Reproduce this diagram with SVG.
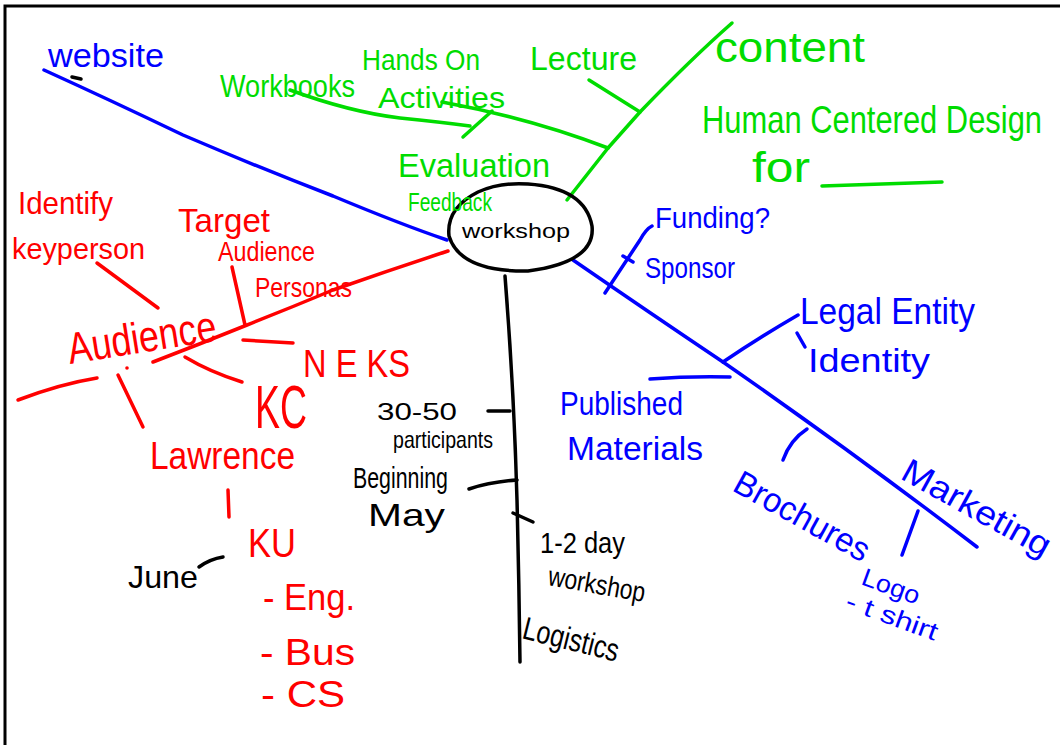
<svg xmlns="http://www.w3.org/2000/svg" width="1060" height="745" viewBox="0 0 1060 745">
  <style>
    text { font-family: "Liberation Sans", Arial, sans-serif; }
    .grn { fill: #00dc00; }
    .blu { fill: #0000ff; }
    .red { fill: #ff0000; }
    .blk { fill: #000000; }
    .ln { fill: none; stroke-width: 3.5; stroke-linecap: round; stroke-linejoin: round; }
    .lg { stroke: #00dc00; }
    .lb { stroke: #0000ff; }
    .lr { stroke: #ff0000; }
    .lk { stroke: #000000; }
  </style>
  <rect width="1060" height="745" fill="#ffffff"/>
  <!-- frame edges -->
  <path d="M5 745 V6 H1060" fill="none" stroke="#000" stroke-width="3"/>

  <!-- connectors -->
  <g id="connectors" class="ln">
    <!-- green content branch -->
    <path class="lg" d="M567 200 L608 148 L640 112 Q690 60 732 23"/>
    <path class="lg" d="M589 80 L640 112"/>
    <path class="lg" d="M442 102 Q530 118 608 148"/>
    <path class="lg" d="M290 90 Q350 112 400 118 Q440 122 470 126"/>
    <path class="lg" d="M492 111 L463 137"/>
    <path class="lg" d="M822 186 L942 182"/>
    <!-- blue website branch -->
    <path class="lb" d="M44 70 Q110 100 183 135 Q260 168 333 196 Q400 224 447 240"/>
    <path class="lk" d="M72 77 L81 79"/>
    <!-- blue marketing branch -->
    <path class="lb" d="M573 260 Q650 313 723 362 Q850 450 977 547"/>
    <path class="lb" d="M605 293 L640 240 Q646 229 652 226"/>
    <path class="lb" d="M623 256 L633 262"/>
    <path class="lb" d="M723 362 Q760 337 798 315"/>
    <path class="lb" d="M797 333 L805 347"/>
    <path class="lb" d="M650 379 Q690 376 730 377"/>
    <path class="lb" d="M807 429 Q790 440 783 460"/>
    <path class="lb" d="M918 511 L902 555"/>
    <!-- red audience branch -->
    <path class="lr" d="M448 251 Q390 270 333 290 Q290 308 247 325 Q200 344 153 362"/>
    <path class="lr" d="M97 378 Q60 384 18 400"/>
    <path class="lr" d="M97 263 L158 308"/>
    <path class="lr" d="M232 267 L245 325"/>
    <path class="lr" d="M243 340 L293 343"/>
    <path class="lr" d="M185 357 Q210 372 242 382"/>
    <path class="lr" d="M118 375 L143 427"/>
    <circle cx="127" cy="368" r="1.8" fill="#ff0000"/>
    <path class="lr" d="M228 490 L229 517"/>
    <path class="lk" d="M199 567 Q210 559 223 557"/>
    <!-- black logistics branch -->
    <path class="lk" d="M505 276 Q514 390 517 500 Q519 580 520 662"/>
    <path class="lk" d="M488 411 L510 411"/>
    <path class="lk" d="M469 489 Q490 482 517 480"/>
    <path class="lk" d="M513 513 L533 522"/>
  </g>

  <!-- central node -->
  <g id="workshop">
    <path d="M478 192 Q500 182 528 184 Q585 188 592 226 Q596 262 528 271 Q460 272 449 236 Q446 208 478 192 Z" fill="none" stroke="#000" stroke-width="3.5"/>
    <text class="blk" x="462" y="238" font-size="21" textLength="108" lengthAdjust="spacingAndGlyphs">workshop</text>
  </g>

  <!-- content (green) -->
  <g id="content">
    <text class="grn" x="715" y="62" font-size="42" textLength="150" lengthAdjust="spacingAndGlyphs">content</text>
    <text class="grn" transform="translate(702 133) scale(1 1.22)" font-size="32" textLength="340" lengthAdjust="spacingAndGlyphs">Human Centered Design</text>
    <text class="grn" x="752" y="182" font-size="42" textLength="58" lengthAdjust="spacingAndGlyphs">for</text>
  </g>
  <g id="lecture">
    <text class="grn" x="530" y="70" font-size="34" textLength="107" lengthAdjust="spacingAndGlyphs">Lecture</text>
  </g>
  <g id="hands-on">
    <text class="grn" x="362" y="70" font-size="30" textLength="118" lengthAdjust="spacingAndGlyphs">Hands On</text>
    <text class="grn" x="378" y="108" font-size="30" textLength="127" lengthAdjust="spacingAndGlyphs">Activities</text>
  </g>
  <g id="workbooks">
    <text class="grn" x="220" y="97" font-size="32" textLength="135" lengthAdjust="spacingAndGlyphs">Workbooks</text>
  </g>
  <g id="evaluation">
    <text class="grn" x="398" y="177" font-size="33" textLength="152" lengthAdjust="spacingAndGlyphs">Evaluation</text>
    <text class="grn" x="408" y="211" font-size="26" textLength="84" lengthAdjust="spacingAndGlyphs">Feedback</text>
  </g>

  <!-- website (blue) -->
  <g id="website">
    <text class="blu" x="48" y="67" font-size="34" textLength="116" lengthAdjust="spacingAndGlyphs">website</text>
  </g>

  <!-- marketing (blue) -->
  <g id="funding">
    <text class="blu" x="655" y="228" font-size="30" textLength="115" lengthAdjust="spacingAndGlyphs">Funding?</text>
    <text class="blu" x="645" y="278" font-size="30" textLength="90" lengthAdjust="spacingAndGlyphs">Sponsor</text>
  </g>
  <g id="legal-entity">
    <text class="blu" x="800" y="324" font-size="36" textLength="175" lengthAdjust="spacingAndGlyphs">Legal Entity</text>
    <text class="blu" x="808" y="372" font-size="34" textLength="122" lengthAdjust="spacingAndGlyphs">Identity</text>
  </g>
  <g id="published">
    <text class="blu" x="560" y="415" font-size="34" textLength="123" lengthAdjust="spacingAndGlyphs">Published</text>
    <text class="blu" x="567" y="460" font-size="34" textLength="136" lengthAdjust="spacingAndGlyphs">Materials</text>
  </g>
  <g id="brochures">
    <text class="blu" transform="translate(731 490) rotate(29)" font-size="34" textLength="150" lengthAdjust="spacingAndGlyphs">Brochures</text>
  </g>
  <g id="logo">
    <text class="blu" transform="translate(860 584) rotate(20)" font-size="25" textLength="60" lengthAdjust="spacingAndGlyphs">Logo</text>
    <text class="blu" transform="translate(844 608) rotate(20)" font-size="25" textLength="96" lengthAdjust="spacingAndGlyphs">- t shirt</text>
  </g>
  <g id="marketing">
    <text class="blu" transform="translate(899 478) rotate(29)" font-size="34" textLength="165" lengthAdjust="spacingAndGlyphs">Marketing</text>
  </g>

  <!-- audience (red) -->
  <g id="audience">
    <text class="red" transform="translate(70 364) rotate(-9)" font-size="44" textLength="150" lengthAdjust="spacingAndGlyphs">Audience</text>
  </g>
  <g id="identify">
    <text class="red" x="18" y="214" font-size="32" textLength="95" lengthAdjust="spacingAndGlyphs">Identify</text>
    <text class="red" x="12" y="259" font-size="30" textLength="133" lengthAdjust="spacingAndGlyphs">keyperson</text>
  </g>
  <g id="target">
    <text class="red" x="178" y="232" font-size="34" textLength="92" lengthAdjust="spacingAndGlyphs">Target</text>
    <text class="red" x="218" y="261" font-size="28" textLength="97" lengthAdjust="spacingAndGlyphs">Audience</text>
    <text class="red" x="255" y="297" font-size="28" textLength="97" lengthAdjust="spacingAndGlyphs">Personas</text>
  </g>
  <g id="ne-ks">
    <text class="red" x="303" y="377" font-size="38" textLength="107" lengthAdjust="spacingAndGlyphs">N E KS</text>
  </g>
  <g id="kc">
    <text class="red" x="255" y="428" font-size="62" textLength="52" lengthAdjust="spacingAndGlyphs">KC</text>
  </g>
  <g id="lawrence">
    <text class="red" x="150" y="469" font-size="38" textLength="145" lengthAdjust="spacingAndGlyphs">Lawrence</text>
  </g>
  <g id="ku">
    <text class="red" x="248" y="557" font-size="40" textLength="48" lengthAdjust="spacingAndGlyphs">KU</text>
    <text class="red" x="263" y="610" font-size="36" textLength="92" lengthAdjust="spacingAndGlyphs">- Eng.</text>
    <text class="red" x="260" y="665" font-size="36" textLength="95" lengthAdjust="spacingAndGlyphs">- Bus</text>
    <text class="red" x="261" y="707" font-size="36" textLength="84" lengthAdjust="spacingAndGlyphs">- CS</text>
  </g>
  <g id="june">
    <text class="blk" x="128" y="588" font-size="32" textLength="70" lengthAdjust="spacingAndGlyphs">June</text>
  </g>

  <!-- logistics (black) -->
  <g id="participants">
    <text class="blk" x="377" y="420" font-size="24" textLength="80" lengthAdjust="spacingAndGlyphs">30-50</text>
    <text class="blk" x="393" y="448" font-size="24" textLength="100" lengthAdjust="spacingAndGlyphs">participants</text>
  </g>
  <g id="beginning">
    <text class="blk" x="353" y="488" font-size="30" textLength="95" lengthAdjust="spacingAndGlyphs">Beginning</text>
    <text class="blk" x="368" y="526" font-size="32" textLength="77" lengthAdjust="spacingAndGlyphs">May</text>
  </g>
  <g id="duration">
    <text class="blk" x="540" y="553" font-size="30" textLength="85" lengthAdjust="spacingAndGlyphs">1-2 day</text>
    <text class="blk" transform="translate(547 585) rotate(10)" font-size="28" textLength="98" lengthAdjust="spacingAndGlyphs">workshop</text>
  </g>
  <g id="logistics">
    <text class="blk" transform="translate(521 638) rotate(14)" font-size="32" textLength="98" lengthAdjust="spacingAndGlyphs">Logistics</text>
  </g>
</svg>
